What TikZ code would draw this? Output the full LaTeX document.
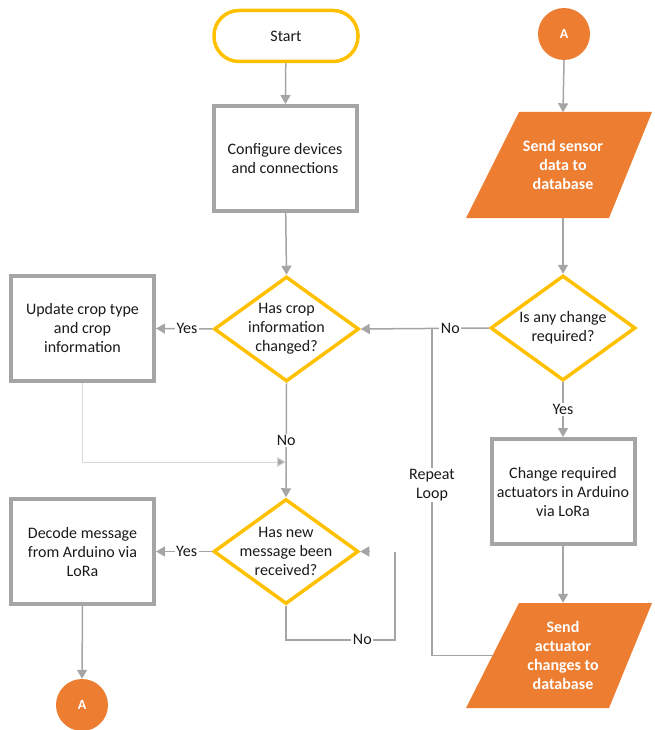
\documentclass[tikz,border=0pt]{standalone}
\usepackage{fontspec}
\setmainfont{Carlito}
\usetikzlibrary{arrows.meta,shapes.geometric,calc}
\definecolor{ylw}{HTML}{FFC000}
\definecolor{gry}{HTML}{A5A5A5}
\definecolor{org}{HTML}{ED7D31}
\definecolor{fnt}{HTML}{D6D6D6}
\definecolor{txt}{HTML}{1A1A1A}
\begin{document}
\begin{tikzpicture}[x=1pt,y=-1pt,
  every node/.style={font=\fontsize{16}{19}\selectfont, text=txt},
  termbox/.style={draw=ylw, line width=3.5pt, rounded corners=25pt, minimum width=144pt, minimum height=51pt, inner sep=0pt},
  procbox/.style={draw=gry, line width=4pt, minimum width=143pt, minimum height=105pt, align=center, inner sep=0pt},
  decbox/.style={draw=ylw, line width=3.5pt, shape=diamond, minimum width=145pt, minimum height=105pt, inner sep=0pt},
  dectext/.style={align=center, inner sep=0pt},
  iobox/.style={minimum width=140pt, minimum height=105pt, inner sep=0pt, align=center, text=white, font=\fontsize{16}{19}\selectfont\bfseries},
  conncirc/.style={circle, fill=org, minimum size=52pt, inner sep=0pt, text=white, font=\fontsize{14}{16}\selectfont\bfseries},
  conn/.style={draw=gry, line width=1.5pt, -{Triangle[width=10pt,length=9pt]}},
  plain/.style={draw=gry, line width=1.5pt},
  faint/.style={draw=fnt, line width=1pt, -{Triangle[width=10pt,length=9pt,fill=gry]}},
  lbl/.style={fill=white, inner sep=1.5pt}
]
\useasboundingbox (0,0) rectangle (655,730);

% parallelogram fills
\fill[org] (519,112) -- (652,112) -- (609,218) -- (466,218) -- cycle;
\fill[org] (519,603) -- (652,603) -- (609,708) -- (466,708) -- cycle;

% nodes
\node[termbox] (start) at (286,36) {Start};
\node[procbox] (conf) at (285,158.5) {Configure devices\\and connections};
\node[decbox] (d1) at (286.5,329) {};
\node[dectext] at (d1) {Has crop\\information\\changed?};
\node[procbox] (upd) at (82.5,328.5) {Update crop type\\and crop\\information};
\node[decbox] (d2) at (286,551.5) {};
\node[dectext] at (d2) {Has new\\message been\\received?};
\node[procbox] (dec) at (82.5,551.5) {Decode message\\from Arduino via\\LoRa};
\node[conncirc] (a2) at (82,705) {A};

\node[conncirc] (a1) at (564,34) {A};
\node[iobox] (p1) at (563,165) {Send sensor\\data to\\database};
\node[decbox] (d3) at (563,328) {};
\node[dectext] at (d3) {Is any change\\required?};
\node[procbox] (chg) at (563,491.5) {Change required\\actuators in Arduino\\via LoRa};
\node[iobox] (p2) at (563,655.5) {Send\\actuator\\changes to\\database};

% helper coordinates
\coordinate (j1) at (286,462);
\coordinate (lp) at (395,552);
\coordinate (lp2) at (369,551.5);
\coordinate (rl) at (432,328.5);

% connectors
\draw[conn] (start) -- (conf);
\draw[conn] (conf) -- (d1.north);
\draw[conn] (d1.west) -- node[lbl, pos=0.45] {Yes} (upd.east);
\draw[faint] (upd.south) |- (j1);
\draw[conn] (d1.south) -- node[lbl, pos=0.5] {No} (d2.north);
\draw[conn] (d2.west) -- node[lbl, pos=0.45] {Yes} (dec.east);
\draw[conn] (dec.south) -- (a2.north);
\draw[plain] (d2.south) -- ++(0,34) -| node[lbl, pos=0.35] {No} (lp);
\draw[conn] (lp2) -- (d2.east);

\draw[conn] (a1.south) -- (p1.north);
\draw[conn] (p1.south) -- (d3.north);
\draw[conn] (d3.west) -- node[lbl, pos=0.3] {No} (d1.east);
\draw[conn] (d3.south) -- node[lbl, pos=0.5] {Yes} (chg.north);
\draw[conn] (chg.south) -- (p2.north);
\draw[plain] (p2.west) -| (rl);
\node[lbl, align=center] (rlab) at (432,485) {Repeat\\Loop};
\end{tikzpicture}
\end{document}
